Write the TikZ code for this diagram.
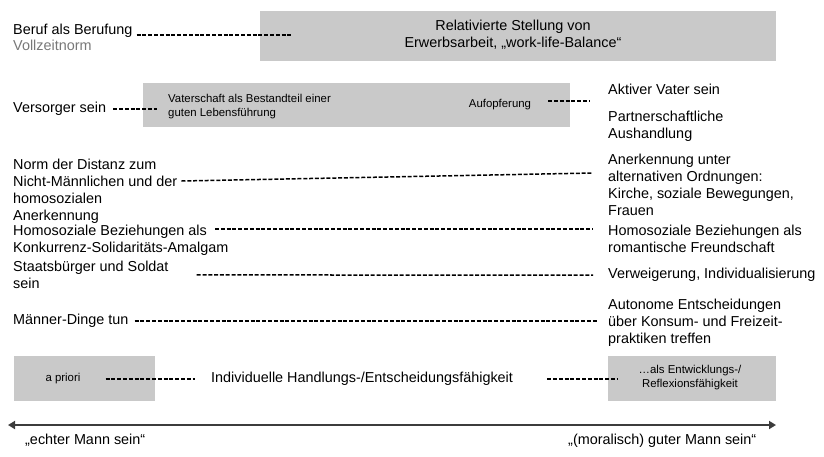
\documentclass[tikz,border=0pt]{standalone}
\usepackage{fontspec}
\setmainfont{Liberation Sans}
\usepackage{tikz}
\usetikzlibrary{arrows.meta,calc,positioning}
\definecolor{boxgray}{RGB}{201,201,201}
\definecolor{textgray}{RGB}{120,120,120}
\definecolor{axisgray}{RGB}{60,60,60}
\newcommand{\bigtxt}{\fontsize{14.4}{17}\selectfont}
\newcommand{\smalltxt}{\fontsize{11.4}{14}\selectfont}

\begin{document}
\begin{tikzpicture}[
    x=1pt, y=-1pt,
    greybox/.style={fill=boxgray, draw=none, inner sep=0, anchor=north west},
    lab/.style={inner sep=0, anchor=west, font=\bigtxt, text height=10.3pt, text depth=3pt},
    multilab/.style={inner sep=0, anchor=north west, font=\bigtxt, align=left},
    smalllab/.style={inner sep=0, font=\smalltxt, align=center},
    dashline/.style={black, line width=1.5pt, dash pattern=on 4pt off 1.8pt}
]
    \useasboundingbox (0,0) rectangle (824,456);
    % Boxes
    \node[greybox, minimum width=516, minimum height=50] (arbeitbox) at (260,11) {};
    \node[greybox, minimum width=427, minimum height=44] (vaterbox) at (143,83) {};
    \node[greybox, minimum width=141, minimum height=45] (prioribox) at (14,356) {};
    \node[greybox, minimum width=168, minimum height=45] (reflexbox) at (608,356) {};
    % Left column
    \node[lab] (beruf) at (13,31) {Beruf als Berufung};
    \node[lab, text=textgray] (voll) at (13,47) {Vollzeitnorm};
    \node[lab] (versorger) at (13,109) {Versorger sein};
    \node[multilab] (norm) at (13,158.5) {Norm der Distanz zum\\Nicht-Männlichen und der\\homosozialen\\Anerkennung};
    \node[multilab] (homolinks) at (13,225) {Homosoziale Beziehungen als\\Konkurrenz-Solidaritäts-Amalgam};
    \node[multilab] (staat) at (13,261) {Staatsbürger und Soldat\\sein};
    \node[lab] (maenner) at (13,321) {Männer-Dinge tun};
    % Inside the boxes
    \node[inner sep=0, font=\bigtxt, align=center] (arbeit) at (513,35) {Relativierte Stellung von\\Erwerbsarbeit, „work-life-Balance“};
    \node[smalllab, anchor=north west, align=left] (vaterschaft) at (168,94) {Vaterschaft als Bestandteil einer\\guten Lebensführung};
    \node[smalllab] (aufopferung) at (500,105) {Aufopferung};
    \node[smalllab] (priori) at (63,379) {a priori};
    \node[smalllab] (reflex) at (690,378) {…als Entwicklungs-/\\Reflexionsfähigkeit};
    % Right column
    \node[lab] (aktiv) at (608,91) {Aktiver Vater sein};
    \node[multilab] (partner) at (608,111) {Partnerschaftliche\\Aushandlung};
    \node[multilab] (anerk) at (608,154) {Anerkennung unter\\alternativen Ordnungen:\\Kirche, soziale Bewegungen,\\Frauen};
    \node[multilab] (homorechts) at (608,225) {Homosoziale Beziehungen als\\romantische Freundschaft};
    \node[lab] (verw) at (608,275) {Verweigerung, Individualisierung};
    \node[multilab] (auto) at (608,299) {Autonome Entscheidungen\\über Konsum- und Freizeit-\\praktiken treffen};
    \node[lab] (indiv) at (211,379) {Individuelle Handlungs-/Entscheidungsfähigkeit};
    % Axis
    \coordinate (links) at (8,425);
    \coordinate (rechts) at (776,425);
    \node[lab] (echt) at (25,441) {„echter Mann sein“};
    \node[lab] (gut) at (568,441) {„(moralisch) guter Mann sein“};
    % Dashed connectors
    \coordinate (berufend) at (293,35);
    \draw[dashline, shorten <=4] (beruf.east |- berufend) -- (berufend);
    \draw[dashline, shorten <=7, shorten >=11] (versorger.east) -- (versorger.east -| vaterschaft.west);
    \draw[dashline] ($(aufopferung.east)+(17,-4)$) -- ($(aktiv.west)+(-18,10)$);
    \draw[dashline] ($(norm.north east)+(4,22.5)$) -- ($(anerk.north west)+(-15,19)$);
    \draw[dashline] ($(homolinks.north west)+(202,4)$) -- ($(homorechts.north west)+(-15,4)$);
    \draw[dashline, shorten <=28, shorten >=15] (staat.east) -- (verw.west);
    \draw[dashline, shorten <=6, shorten >=11] (maenner.east) -- (maenner.east -| auto.west);
    \draw[dashline, shorten <=25, shorten >=16] (priori.east) -- (priori.east -| indiv.west);
    \draw[dashline, shorten <=34, shorten >=20] (indiv.east) -- (indiv.east -| reflex.west);
    \draw[axisgray, line width=2pt, {Triangle[length=7pt,width=8pt]}-{Triangle[length=7pt,width=8pt]}] (links) -- (rechts);
\end{tikzpicture}
\end{document}
